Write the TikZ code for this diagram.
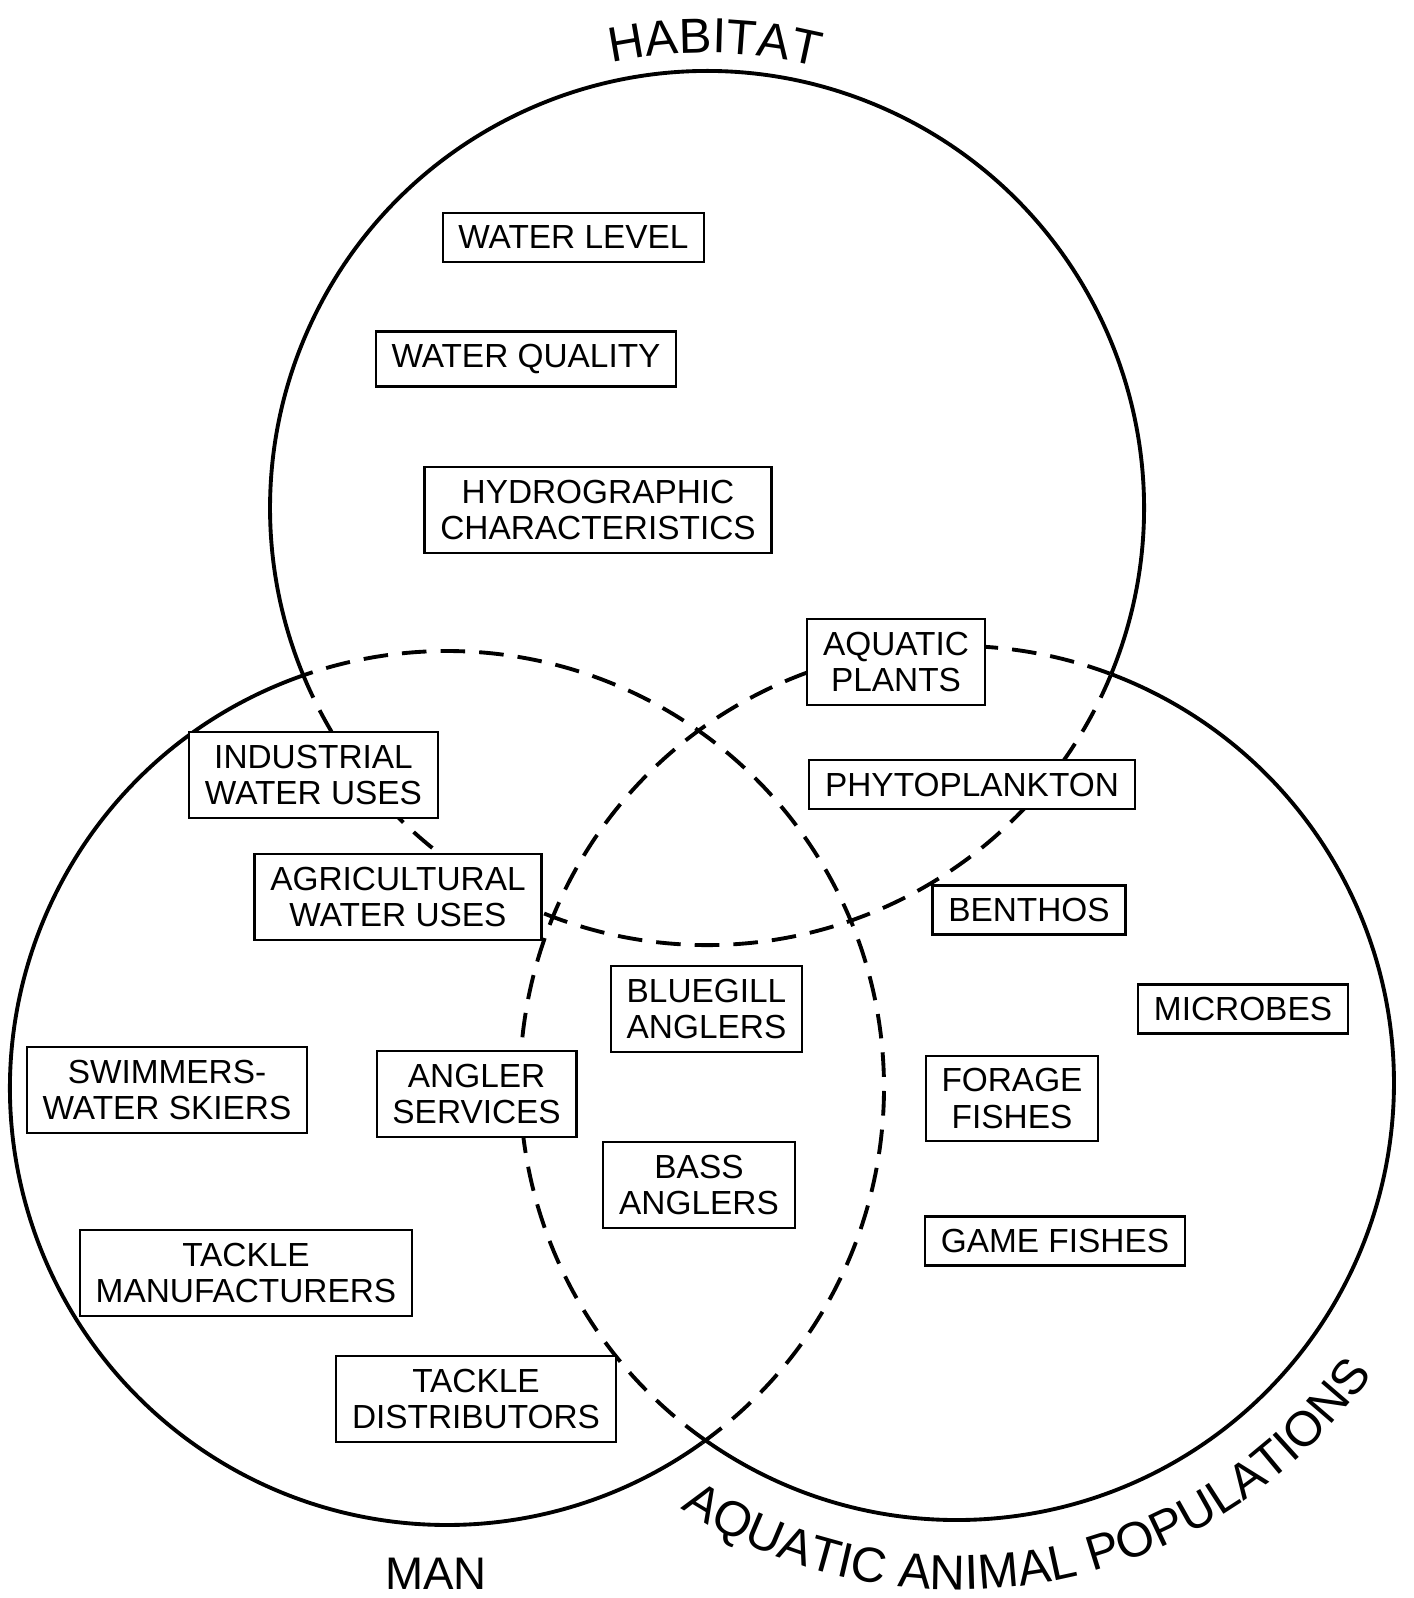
\documentclass[tikz,border=0pt]{standalone}
\usepackage{fontspec}
\setmainfont{Liberation Sans}
\usetikzlibrary{calc,decorations.text}

\tikzset{
  factor/.style={draw, fill=white, line width=0.6pt, inner xsep=4.5pt, inner ysep=3.6pt,
    align=center, font=\fontsize{9.5}{10.4}\selectfont},
  rim/.style={line width=1.1pt},
  inner rim/.style={line width=1.1pt, dash pattern=on 7pt off 4pt},
}

\begin{document}
\begin{tikzpicture}
\useasboundingbox (0,0) rectangle (14.13,-15.98);
\def\R{4.37}
\coordinate (hab) at (7.07,-5.08);
\coordinate (man) at (4.47,-10.88);
\coordinate (aap) at (9.57,-10.83);

% outer arcs solid, inner arcs dashed
\draw[rim] ($(hab)+(-22.3:\R)$) arc[start angle=-22.3, end angle=202.5, radius=\R];
\draw[inner rim] ($(hab)+(202.5:\R)$) arc[start angle=202.5, end angle=337.7, radius=\R];
\draw[rim] ($(man)+(109.2:\R)$) arc[start angle=109.2, end angle=305.7, radius=\R];
\draw[inner rim] ($(man)+(-54.3:\R)$) arc[start angle=-54.3, end angle=109.2, radius=\R];
\draw[rim] ($(aap)+(-125.3:\R)$) arc[start angle=-125.3, end angle=69.4, radius=\R];
\draw[inner rim] ($(aap)+(69.4:\R)$) arc[start angle=69.4, end angle=234.7, radius=\R];

% circle names
\path[decorate, decoration={text along path, text align=center,
  text={|\fontsize{14}{14}\selectfont|HABITAT}}]
  ($(hab)+(104:4.55)$) arc[start angle=104, end angle=74, radius=4.55];
\path[decorate, decoration={text along path, text align=center,
  text={|\fontsize{14}{14}\selectfont|AQUATIC ANIMAL POPULATIONS}}]
  ($(aap)+(-130:5.07)$) arc[start angle=-130, end angle=-28, radius=5.07];
\node[font=\fontsize{13}{13}\selectfont] (manname) at (4.36,-15.74) {MAN};

% habitat
\node[factor] (level) at (5.735,-2.375) {WATER LEVEL};
\node[factor] (quality) at (5.26,-3.59) {WATER QUALITY};
\node[factor] (hydro) at (5.98,-5.10) {HYDROGRAPHIC\\CHARACTERISTICS};
\node[factor] (plants) at (8.96,-6.62) {AQUATIC\\PLANTS};
\node[factor] (phyto) at (9.72,-7.845) {PHYTOPLANKTON};
\node[factor] (industrial) at (3.135,-7.75) {INDUSTRIAL\\WATER USES};
\node[factor] (agri) at (3.98,-8.97) {AGRICULTURAL\\WATER USES};

% animals
\node[factor] (benthos) at (10.29,-9.10) {BENTHOS};
\node[factor] (microbes) at (12.43,-10.09) {MICROBES};
\node[factor] (forage) at (10.12,-10.985) {FORAGE\\FISHES};
\node[factor] (game) at (10.55,-12.41) {GAME FISHES};

% man
\node[factor] (bluegill) at (7.065,-10.09) {BLUEGILL\\ANGLERS};
\node[factor] (bass) at (6.99,-11.85) {BASS\\ANGLERS};
\node[factor] (services) at (4.766,-10.94) {ANGLER\\SERVICES};
\node[factor] (swimmers) at (1.67,-10.90) {SWIMMERS-\\WATER SKIERS};
\node[factor] (manuf) at (2.46,-12.73) {TACKLE\\MANUFACTURERS};
\node[factor] (distrib) at (4.76,-13.99) {TACKLE\\DISTRIBUTORS};
\end{tikzpicture}
\end{document}
